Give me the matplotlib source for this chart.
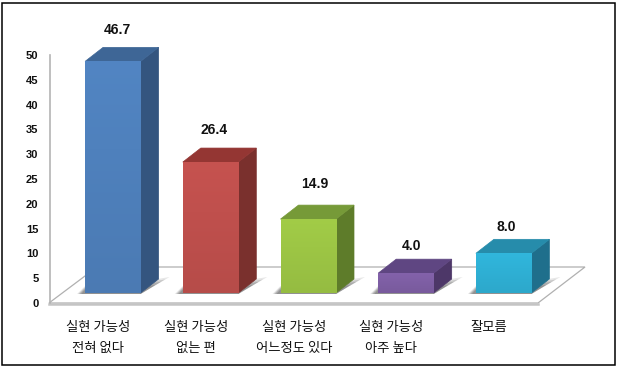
import numpy as np
import matplotlib
matplotlib.use("Agg")
import matplotlib.pyplot as plt
from matplotlib.patches import Polygon, Rectangle
from matplotlib.transforms import Affine2D
from matplotlib.colors import to_rgb

categories = ["실현 가능성\n전혀 없다", "실현 가능성\n없는 편", "실현 가능성\n어느정도 있다", "실현 가능성\n아주 높다", "잘모름"]
values = [46.7, 26.4, 14.9, 4.0, 8.0]
value_labels = ["46.7", "26.4", "14.9", "4.0", "8.0"]
y_ticks = [0, 5, 10, 15, 20, 25, 30, 35, 40, 45, 50]
front_colors = ["#4F81BD", "#C0504D", "#9DC645", "#7F5FA5", "#2FB1D6"]
side_colors = ["#34557F", "#7A302D", "#5E7C2A", "#4D3768", "#1F6F8C"]
top_colors = ["#3E6696", "#943633", "#769A38", "#5F4682", "#268CAB"]

W, H = 620, 369
fig = plt.figure(figsize=(W / 100, H / 100), dpi=100, facecolor="white")
PX = lambda x0, y0, x1, y1: [x0 / W, 1 - y1 / H, (x1 - x0) / W, (y1 - y0) / H]
ax = fig.add_axes(PX(49.5, 55, 538, 303))
ax.set_xlim(-0.5, 4.5)
ax.set_ylim(0, 50)
ax.patch.set_alpha(0)
for s in ["top", "right", "bottom"]:
    ax.spines[s].set_visible(False)
ax.spines["left"].set_color("#B4B4B4")
ax.spines["left"].set_linewidth(1.2)

ax.set_yticks(y_ticks)
ax.tick_params(axis="y", length=0, pad=8, labelsize=8)
for t in ax.get_yticklabels():
    t.set_fontfamily("Liberation Sans")
    t.set_fontweight("bold")
    t.set_color("#111111")
ax.set_xticks(range(len(categories)))
ax.set_xticklabels(categories, family=["Noto Sans CJK KR", "DejaVu Sans"], fontsize=9.6,
                   fontweight="medium", color="#111111", linespacing=1.68, va="top")
ax.tick_params(axis="x", length=0, pad=12)

# the chart's 3D floor and frame are decoration in pixel space
pix = Affine2D().scale(1, -1).translate(0, H)
fig.add_artist(Rectangle((1.5, 2.5), 613.5, 362.5, transform=pix, fill=False, ec="black", lw=1.1))
ax.add_patch(Polygon([(49, 303), (97, 267), (585, 267), (538, 303)], closed=True, transform=pix,
                     fc="white", ec="#B0B0B0", lw=0.9, clip_on=False, zorder=1))
ax.plot([49, 538], [303.7, 303.7], transform=pix, color="#C4C4C4", lw=1.8, clip_on=False, zorder=1.1)

# bars stand 15 px right of and 10 px above their category slot on the floor
tr = ax.transData + Affine2D().translate(14.5, 10)
px_per_x = 488.5 / 5
px_per_y = 248 / 50
dx, dy = 18 / px_per_x, 14 / px_per_y
width = 55.5 / px_per_x
nudge = [5, 4, 7, 6, 3]
label_gap = [31, 32, 35, 27, 26]
for i, v in enumerate(values):
    l, r = i - width / 2, i + width / 2
    # soft floor shadow: left sliver plus a diagonal wedge off the right side
    for k, a in zip([1.0, 0.85, 0.7, 0.5], [0.14, 0.2, 0.26, 0.3]):
        ax.add_patch(Polygon([(l - 8 * k / px_per_x, -1 / px_per_y), (r, -1 / px_per_y),
                              (r + 29 * k / px_per_x, 16 * k / px_per_y),
                              (r + 17 * k / px_per_x, 14 * k / px_per_y), (l, 7 * k / px_per_y)],
                             closed=True, transform=tr, fc="#555555", ec="none", alpha=a,
                             clip_on=False, zorder=1.5))
    ax.add_patch(Polygon([(r, 0), (r + dx, dy), (r + dx, v + dy), (r, v)], closed=True, transform=tr,
                         fc=side_colors[i], ec=side_colors[i], lw=0.5, clip_on=False, zorder=2))
    ax.add_patch(Polygon([(l, v), (l + dx, v + dy), (r + dx, v + dy), (r, v)], closed=True, transform=tr,
                         fc=top_colors[i], ec=top_colors[i], lw=0.5, clip_on=False, zorder=2))
    ax.bar(i, v, width=width, color=front_colors[i], transform=tr, clip_on=False, zorder=3, ec="none")
    base = np.array(to_rgb(front_colors[i]))
    fade = np.linspace(1.03, 0.95, 32)[:, None, None]
    ax.imshow(np.clip(base[None, None, :] * fade, 0, 1), extent=(l, r, 0, v), origin="upper",
              aspect="auto", transform=tr, zorder=3.1, clip_on=False, interpolation="bilinear")
    ax.text(i, v, value_labels[i], transform=tr + Affine2D().translate(nudge[i], label_gap[i]),
            ha="center", va="center", family="Liberation Sans", fontweight="bold", fontsize=10,
            color="#111111", zorder=4, clip_on=False)
ax.set_xlim(-0.5, 4.5)
ax.set_ylim(0, 50)
fig.savefig("out.png", dpi=100)
